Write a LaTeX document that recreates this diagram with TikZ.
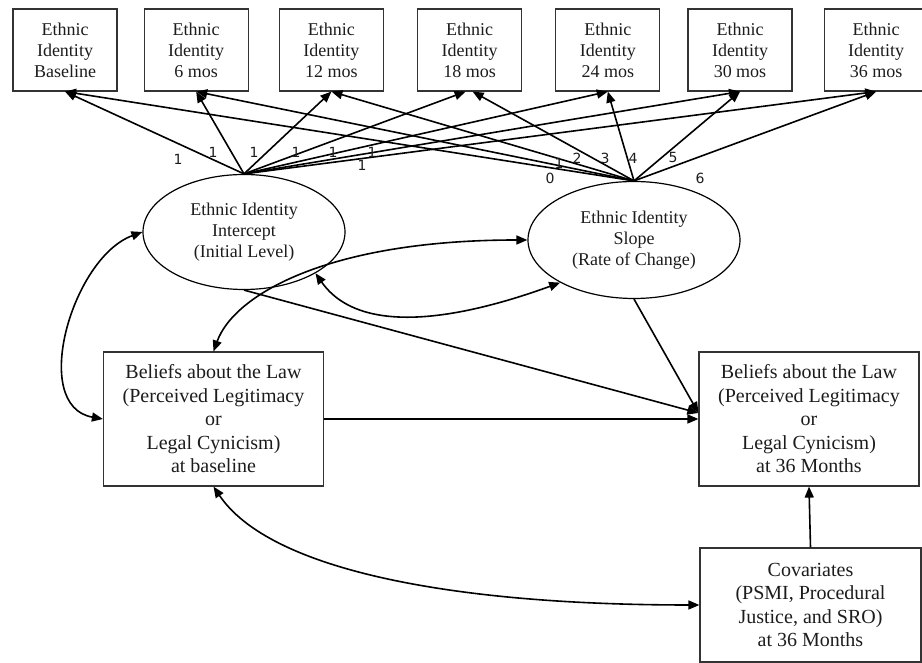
\documentclass[tikz,border=0pt]{standalone}
\usepackage{fontspec}
\setmainfont{Liberation Serif}
\newfontfamily\loadfont{DejaVu Sans}
\usepackage{xcolor}
\definecolor{semInk}{HTML}{1c1c1c}
\definecolor{semBox}{HTML}{333333}
\usepackage{tikz}
\usetikzlibrary{positioning,arrows.meta,shapes.geometric}

\begin{document}
\begin{tikzpicture}[x=1pt,y=1pt,
      occasion/.style={rectangle,draw=semBox,line width=1.2pt,
                       minimum width=104pt,minimum height=82pt,inner sep=0pt,
                       align=center,text=semInk,font=\fontsize{18}{21}\selectfont},
      latent/.style={ellipse,draw=black,line width=1.2pt,inner sep=0pt,
                     align=center,text=semInk,font=\fontsize{18}{21}\selectfont},
      belief/.style={rectangle,draw=semBox,line width=1.2pt,minimum width=220pt,
                     inner sep=0pt,align=center,text=semInk,
                     font=\fontsize{20}{23.5}\selectfont},
      loading/.style={font=\loadfont\fontsize{14}{14}\selectfont,text=semInk,inner sep=0pt},
      arr/.style={-{Triangle[length=11pt,width=9pt]},line width=1.6pt},
      cov/.style={{Triangle[length=11pt,width=9pt]}-{Triangle[length=11pt,width=9pt]},line width=1.6pt},
    ]
    \useasboundingbox (0,0) rectangle (922,663);

    % Repeated measures
    \node[occasion] (w0) at (65,613) {Ethnic\\Identity\\Baseline};
    \node[occasion,right=26pt of w0] (w6) {Ethnic\\Identity\\6 mos};
    \node[occasion,right=30pt of w6] (w12) {Ethnic\\Identity\\12 mos};
    \node[occasion,right=33pt of w12] (w18) {Ethnic\\Identity\\18 mos};
    \node[occasion,right=33pt of w18] (w24) {Ethnic\\Identity\\24 mos};
    \node[occasion,right=27pt of w24] (w30) {Ethnic\\Identity\\30 mos};
    \node[occasion,right=31pt of w30] (w36) {Ethnic\\Identity\\36 mos};

    % Growth factors
    \node[latent,minimum width=202pt,minimum height=115pt] (icpt) at (244,431) {Ethnic Identity\\Intercept\\(Initial Level)};
    \node[latent,minimum width=212pt,minimum height=117pt] (slope) at (634,423) {Ethnic Identity\\Slope\\(Rate of Change)};

    % Outcomes and covariates
    \node[belief,minimum height=134pt] (bbase) at (213.5,244) {Beliefs about the Law\\(Perceived Legitimacy\\or\\Legal Cynicism)\\at baseline};
    \node[belief,minimum height=134pt] (b36) at (809,244) {Beliefs about the Law\\(Perceived Legitimacy\\or\\Legal Cynicism)\\at 36 Months};
    \node[belief,minimum width=221pt,minimum height=114pt] (covs) at (810.5,58) {Covariates\\(PSMI, Procedural\\Justice, and SRO)\\at 36 Months};

    % Loadings
    \draw[arr] (icpt.north) -- (w0.south);
    \draw[arr] (icpt.north) -- (w6.south);
    \draw[arr] (icpt.north) -- (w12.south);
    \draw[arr] (icpt.north) -- ([xshift=-4pt]w18.south);
    \draw[arr] (icpt.north) -- (w24.south);
    \draw[arr] (icpt.north) -- (w30.south);
    \draw[arr] (icpt.north) -- (w36.south);
    \draw[arr] (slope.north) -- (w0.south);
    \draw[arr] (slope.north) -- (w6.south);
    \draw[arr] (slope.north) -- (w12.south);
    \draw[arr] (slope.north) -- ([xshift=3pt]w18.south);
    \draw[arr] (slope.north) -- (w24.south);
    \draw[arr] (slope.north) -- (w30.south);
    \draw[arr] (slope.north) -- (w36.south);

    \node[loading] (i0) at (178,504) {1};
    \node[loading] (i6) at (213,511) {1};
    \node[loading] (i12) at (254,511) {1};
    \node[loading] (i18) at (296,511) {1};
    \node[loading] (i24) at (333,511) {1};
    \node[loading] (i30) at (372,511) {1};
    \node[loading] (i36) at (362,498) {1};
    \node[loading] (s0) at (550,485) {0};
    \node[loading] (s6) at (559,500) {1};
    \node[loading] (s12) at (577,505) {2};
    \node[loading] (s18) at (605,505) {3};
    \node[loading] (s24) at (633,505) {4};
    \node[loading] (s30) at (673,505) {5};
    \node[loading] (s36) at (700,485) {6};

    % Paths
    \draw[arr] (bbase.east) -- (b36.west);
    \draw[arr] (icpt.south) -- ([yshift=6pt]b36.west);
    \draw[arr] (slope.south) -- ([yshift=6pt]b36.west);
    \draw[arr] (covs.north) -- (b36.south);

    % Covariances
    \draw[cov] (icpt.west) to[out=200,in=170] (bbase.west);
    \draw[cov] (icpt.-30) to[out=-55,in=200,out distance=80pt,in distance=100pt] (slope.210);
    \draw[cov] (bbase.north) to[out=70,in=180,out distance=60pt,in distance=200pt] (slope.west);
    \draw[cov] (bbase.south) to[out=-56,in=180,out distance=100pt,in distance=250pt] (covs.west);

  \end{tikzpicture}
\end{document}
